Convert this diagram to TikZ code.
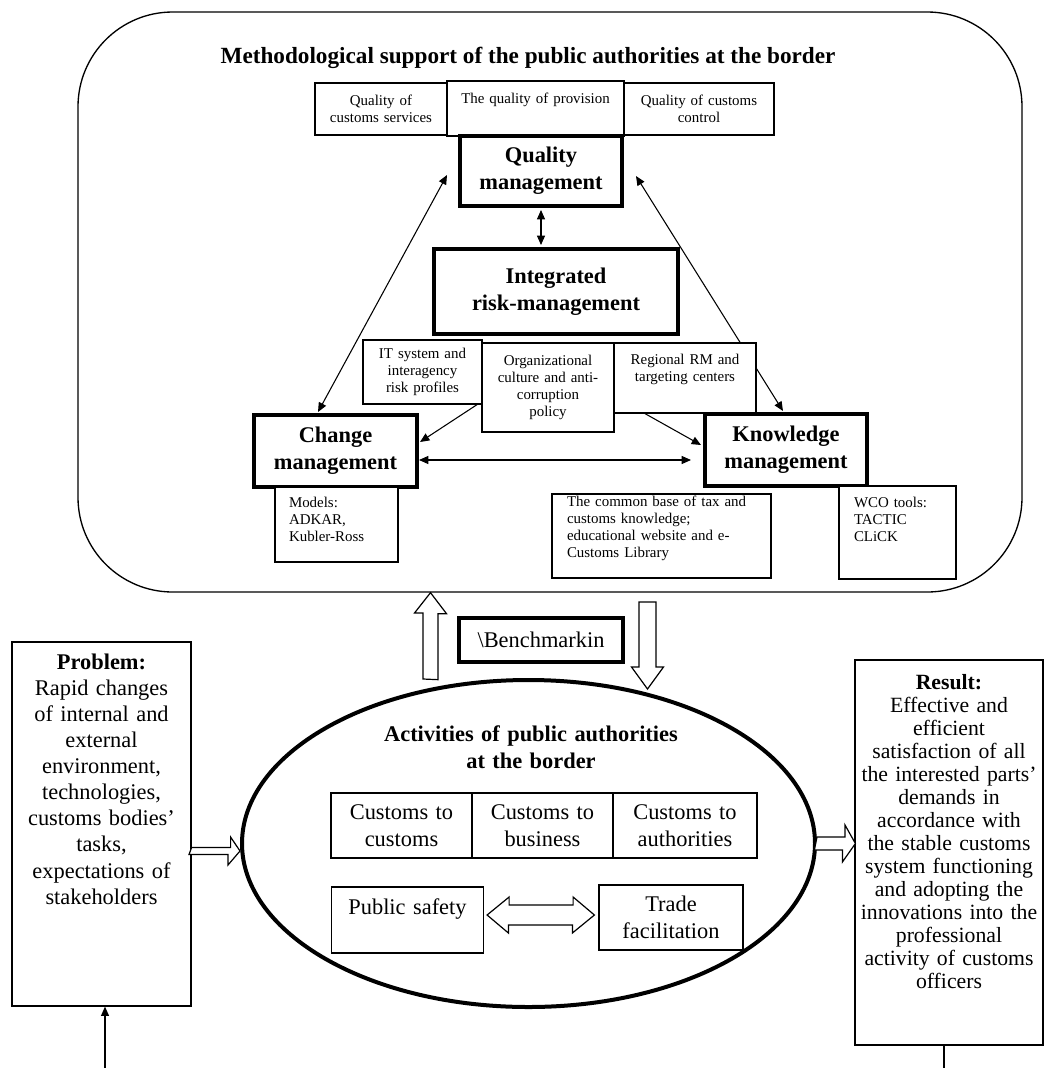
\documentclass[tikz,border=0pt]{standalone}
\usepackage{fontspec}
\setmainfont{Liberation Serif}
\usetikzlibrary{arrows.meta,calc,positioning,shapes.geometric,backgrounds}

\newcommand{\smallsz}{\fontsize{11.2pt}{12.75pt}\selectfont}
\newcommand{\bigsz}{\fontsize{16.8pt}{20pt}\selectfont}
\newcommand{\probsz}{\fontsize{16.8pt}{19.6pt}\selectfont}
\newcommand{\ressz}{\fontsize{16.3pt}{17.3pt}\selectfont}

\begin{document}
\begin{tikzpicture}[x=0.75pt,y=-0.75pt,>={Triangle[length=7pt,width=6pt]},
    thinbox/.style={draw,line width=0.9pt,fill=white,inner sep=0pt,align=center},
    notebox/.style={thinbox,font=\smallsz},
    leftnote/.style={notebox,align=left},
    mgmtbox/.style={draw,line width=3pt,fill=white,inner sep=0pt,align=center,font=\bigsz\bfseries},
    actbox/.style={thinbox,font=\bigsz},
    link/.style={line width=0.8pt},
    hollow/.style={draw,line width=0.9pt,fill=white,line join=miter}]
  \useasboundingbox (0,0) rectangle (1046,1068);

  % methodological support
  \node[draw,line width=1pt,rounded corners=71pt,minimum width=708pt,minimum height=435pt] (frame) at (550,302) {};
  \node[font=\fontsize{17.4pt}{20pt}\selectfont\bfseries] (title) at (528,58) {Methodological support of the public authorities at the border};

  \node[notebox,text width=95pt,minimum width=99pt,minimum height=39pt] (svc) at (381,109) {Quality of\\customs services};
  \node[notebox,text width=125pt,minimum width=132.75pt,text height=16.9pt,text depth=24.4pt] (prov) at (535.5,108.5) {The quality of provision};
  \node[notebox,text width=108pt,minimum width=112.5pt,minimum height=39pt] (ctl) at (699,109) {Quality of customs\\control};

  \node[mgmtbox,text width=118pt,minimum width=121.5pt,minimum height=52.5pt] (qm) at (541,171) {Quality\\management};
  \node[mgmtbox,text width=178pt,minimum width=183pt,minimum height=63.75pt] (irm) at (556,291.5) {Integrated\\risk-management};

  \node[notebox,text width=86pt,minimum width=89.25pt,minimum height=48pt] (it) at (422.5,372) {IT system and\\interagency\\risk profiles};
  \node[notebox,text width=95pt,minimum width=99pt,minimum height=66.75pt] (org) at (548,387.5) {Organizational\\culture and anti-\\corruption\\policy};
  \node[notebox,text width=100pt,minimum width=106.5pt,text height=16.1pt,text depth=36.4pt] (reg) at (685,378) {Regional RM and\\targeting centers};

  \node[mgmtbox,text width=118pt,minimum width=122.25pt,minimum height=54pt] (cm) at (335.5,451) {Change\\management};
  \node[mgmtbox,text width=118pt,minimum width=121.5pt,minimum height=54pt] (km) at (786,450) {Knowledge\\management};

  \node[leftnote,text width=71.25pt,inner xsep=10.5pt,text height=15pt,text depth=41.25pt] (models) at (336.5,524.5) {Models:\\ADKAR,\\Kubler-Ross};
  \node[leftnote,text width=141.75pt,inner xsep=11.25pt,text height=9pt,text depth=54pt] (common) at (661.5,536) {The common base of tax and\\customs knowledge;\\educational website and e-\\Customs Library};
  \node[leftnote,text width=65.25pt,inner xsep=11.25pt,text height=16.1pt,text depth=53.6pt] (wco) at (897.5,532.5) {WCO tools:\\TACTIC\\CLiCK};

  % benchmarking between the two levels
  \node[draw,line width=3pt,inner sep=0pt,text width=120pt,align=center,minimum width=123pt,minimum height=33pt,font=\bigsz] (bench) at (541,640) {\textbackslash Benchmarkin};

  % activities at the border
  \node[draw,ellipse,line width=3pt,inner sep=0pt,minimum width=429.75pt,minimum height=245.25pt] (act) at (528.5,843.5) {};
  \node[text width=240pt,align=center,font=\bigsz\bfseries] (acttitle) at (531,747.5) {Activities of public authorities\\at the border};
  \node[actbox,text width=100pt,minimum width=105.75pt,minimum height=48.75pt] (c2c) at (401.5,825.5) {Customs to\\customs};
  \node[actbox,text width=100pt,minimum width=105.75pt,minimum height=48.75pt] (c2b) at (542.5,825.5) {Customs to\\business};
  \node[actbox,text width=104pt,minimum width=108pt,minimum height=48.75pt] (c2a) at (685,825.5) {Customs to\\authorities};
  \node[actbox,text width=108pt,minimum width=114pt,text height=20.25pt,text depth=29.25pt] (safe) at (407.5,920) {Public safety};
  \node[actbox,text width=104pt,minimum width=108pt,minimum height=48.75pt] (trade) at (671,917.5) {Trade\\facilitation};

  % problem and result
  \node[thinbox,font=\probsz,text width=122.25pt,minimum width=134.25pt,text height=20.25pt,text depth=252.75pt] (prob) at (101.5,824) {\textbf{Problem:}\\Rapid changes\\of internal and\\external\\environment,\\technologies,\\customs bodies'\\tasks,\\expectations of\\stakeholders};
  \node[thinbox,font=\ressz,text width=136.5pt,minimum width=141pt,text height=21.75pt,text depth=267pt] (res) at (949,852.5) {\textbf{Result:}\\Effective and\\efficient\\satisfaction of all\\the interested parts'\\demands in\\accordance with\\the stable customs\\system functioning\\and adopting the\\innovations into the\\professional\\activity of customs\\officers};

  % thin connectors
  \begin{scope}[on background layer]
    \draw[link,<->,shorten <=1.5pt,shorten >=1.5pt] (qm.south) -- (qm.south |- irm.north);
    \draw[link,<->] ($(cm.north)+(-17.5,-1)$) -- ($(qm.west)+(-11,4)$);
    \draw[link,<->] ($(km.north)+(-3,-1)$) -- ($(qm.east)+(12,5)$);
    \draw[link,->] ($(it.south east)+(-4,-1)$) -- ($(cm.east)+(1,-9)$);
    \draw[link,->] ($(reg.south)+(-40,0)$) -- ($(km.west)+(-2,-5)$);
    \draw[link,<->] ($(cm.east)+(0,9)$) -- ($(km.west)+(-12,10)$);
  \end{scope}
  \coordinate (probin) at (105,1068);
  \draw[link,->] (probin) -- (probin |- prob.south);
  \coordinate (resout) at (944,1068);
  \draw[link] (resout |- res.south) -- (resout);

  % hollow arrows
  \coordinate (pa) at ($(prob.east)+(0,27)$);
  \coordinate (ptip) at ($(act.west)+(0,7.5)$);
  \draw[hollow] ($(pa)+(0,-3.5)$) -- ++(39,0) -- ++(0,-10.5) -- (ptip) -- ++(-12,14) -- ++(0,-10.5) -- ++(-39,0) -- cycle;
  \coordinate (ra) at (act.east);
  \coordinate (rtip) at ($(res.west)+(1,-9)$);
  \draw[hollow] ($(ra)+(0,-6.5)$) -- ++(28,0) -- ++(0,-12) -- (rtip) -- ++(-13,18.5) -- ++(0,-12) -- ++(-28,0) -- cycle;
  \coordinate (ua) at (430.5,679);
  \coordinate (utip) at (ua |- frame.south);
  \draw[hollow] ($(ua)+(-7.5,0)$) -- ++(0,-66) -- ++(-8.5,0) -- (utip) -- ++(16,21) -- ++(-8.5,0) -- ++(0,66) -- cycle;
  \coordinate (da) at (647.5,602);
  \coordinate (dtip) at (647.5,689);
  \draw[hollow] ($(da)+(-8.5,0)$) -- ++(0,65) -- ++(-7.5,0) -- (dtip) -- ++(16,-22) -- ++(-7.5,0) -- ++(0,-65) -- cycle;
  \coordinate (dl) at ($(safe.east)+(3,-5)$);
  \coordinate (dr) at ($(trade.west)+(-4,-2.5)$);
  \draw[hollow] (dl) -- ++(22,-18) -- ++(0,8) -- ++(64,0) -- ++(0,-8) -- (dr) -- ++(-22,18) -- ++(0,-8) -- ++(-64,0) -- ++(0,8) -- cycle;
\end{tikzpicture}
\end{document}
